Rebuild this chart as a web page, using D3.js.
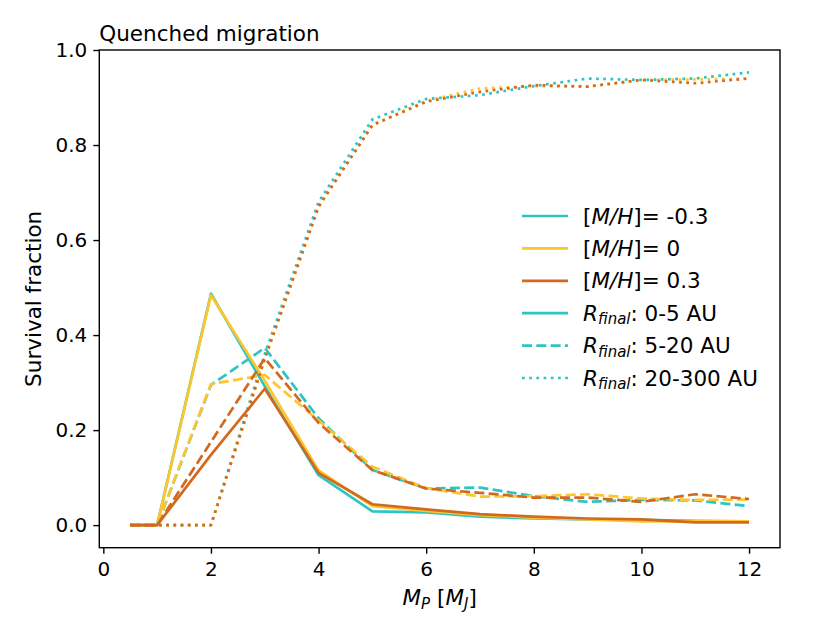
<!DOCTYPE html>
<html>
<head>
<meta charset="utf-8">
<script src="https://cdn.jsdelivr.net/npm/d3@7"></script>
<style>
body { margin: 0; background: #fff; }
text { font-family: "DejaVu Sans", sans-serif; }
</style>
</head>
<body>
<svg id="chart"></svg>
<script>
const width = 830;
const height = 623;

// planet mass in Jupiter masses
const masses = [0.5, 1, 2, 3, 4, 5, 6, 7, 8, 9, 10, 11, 12];
const metallicities = ["-0.3", "0", "0.3"];
const metalColors = ["#2ec4c4", "#fdc52e", "#d2691e"];
const radiusBins = ["0-5 AU", "5-20 AU", "20-300 AU"];

// R_final 0-5 AU
const innerLow  = [0, 0, 0.487, 0.292, 0.105, 0.029, 0.027, 0.018, 0.014, 0.012, 0.011, 0.009, 0.008];
const innerMid  = [0, 0, 0.484, 0.304, 0.115, 0.040, 0.030, 0.021, 0.016, 0.012, 0.008, 0.008, 0.008];
const innerHigh = [0, 0, 0.148, 0.287, 0.110, 0.044, 0.033, 0.023, 0.018, 0.014, 0.012, 0.006, 0.006];

// R_final 5-20 AU
const midLow  = [0, 0, 0.295, 0.373, 0.225, 0.116, 0.077, 0.079, 0.061, 0.049, 0.053, 0.052, 0.040];
const midMid  = [0, 0, 0.297, 0.316, 0.220, 0.123, 0.078, 0.060, 0.061, 0.065, 0.056, 0.053, 0.054];
const midHigh = [0, 0, 0.175, 0.351, 0.215, 0.116, 0.077, 0.068, 0.058, 0.058, 0.049, 0.065, 0.055];

// R_final 20-300 AU
const outerLow  = [0, 0, 0, 0.36, 0.680, 0.854, 0.897, 0.905, 0.924, 0.940, 0.937, 0.940, 0.953];
const outerMid  = [0, 0, 0, 0.35, 0.670, 0.842, 0.893, 0.919, 0.924, 0.923, 0.937, 0.938, 0.940];
const outerHigh = [0, 0, 0, 0.35, 0.670, 0.842, 0.891, 0.912, 0.926, 0.923, 0.937, 0.930, 0.940];

const xTicks = [0, 2, 4, 6, 8, 10, 12];
const yTicks = [0, 0.2, 0.4, 0.6, 0.8, 1.0];

const dashStyles = [null, "10,4.3", "2.7,4.5"];

// plotting order: per metallicity, solid / dashed / dotted
const series = [
    { metal: 0, bin: 0, values: innerLow },
    { metal: 0, bin: 1, values: midLow },
    { metal: 0, bin: 2, values: outerLow },
    { metal: 1, bin: 0, values: innerMid },
    { metal: 1, bin: 1, values: midMid },
    { metal: 1, bin: 2, values: outerMid },
    { metal: 2, bin: 0, values: innerHigh },
    { metal: 2, bin: 1, values: midHigh },
    { metal: 2, bin: 2, values: outerHigh }
];

const tickFont = "20px";
const labelFont = "21.5px";
const subFont = "15px";

const margin = { top: 50, right: 50, bottom: 75.3, left: 99.3 };
const plotW = width - margin.left - margin.right;
const plotH = height - margin.top - margin.bottom;

const svg = d3.select("#chart")
    .attr("width", width)
    .attr("height", height);

const x = d3.scaleLinear().domain([-0.075, 12.575]).range([margin.left, margin.left + plotW]);
const y = d3.scaleLinear().domain([-0.0475, 1.0]).range([margin.top + plotH, margin.top]);

const line = d3.line()
    .x((d, i) => x(masses[i]))
    .y(d => y(d));

svg.append("g").selectAll("path")
    .data(series)
    .enter()
    .append("path")
    .attr("d", d => line(d.values))
    .attr("fill", "none")
    .attr("stroke", d => metalColors[d.metal])
    .attr("stroke-width", 2.7)
    .attr("stroke-linejoin", "round")
    .attr("stroke-dasharray", d => dashStyles[d.bin]);

// axes
const xAxis = svg.append("g")
    .attr("transform", `translate(0,${margin.top + plotH})`)
    .call(d3.axisBottom(x).tickValues(xTicks).tickSize(6).tickPadding(8).tickFormat(d3.format("d")));
const yAxis = svg.append("g")
    .attr("transform", `translate(${margin.left},0)`)
    .call(d3.axisLeft(y).tickValues(yTicks).tickSize(6).tickPadding(6).tickFormat(d3.format(".1f")));

[xAxis, yAxis].forEach(a => {
    a.select(".domain").remove();
    a.selectAll(".tick line").attr("stroke", "#000").attr("stroke-width", 1.4);
    a.selectAll(".tick text").attr("fill", "#000").style("font-size", tickFont).style("font-family", "DejaVu Sans");
});

svg.append("rect")
    .attr("x", margin.left)
    .attr("y", margin.top)
    .attr("width", plotW)
    .attr("height", plotH)
    .attr("fill", "none")
    .attr("stroke", "#000")
    .attr("stroke-width", 1.4);

// title and labels
svg.append("text")
    .attr("x", margin.left)
    .attr("y", 40.5)
    .style("font-size", labelFont)
    .text("Quenched migration");

svg.append("text")
    .attr("transform", `translate(40.5,${margin.top + plotH / 2}) rotate(-90)`)
    .attr("text-anchor", "middle")
    .style("font-size", labelFont)
    .text("Survival fraction");

const xlab = svg.append("text")
    .attr("x", margin.left + plotW / 2)
    .attr("y", 605)
    .attr("text-anchor", "middle")
    .style("font-size", labelFont);
xlab.append("tspan").style("font-style", "italic").text("M");
xlab.append("tspan").style("font-style", "italic").style("font-size", subFont).attr("dy", 3.5).text("P");
xlab.append("tspan").attr("dy", -3.5).text(" [");
xlab.append("tspan").style("font-style", "italic").text("M");
xlab.append("tspan").style("font-style", "italic").style("font-size", subFont).attr("dy", 3.5).text("J");
xlab.append("tspan").attr("dy", -3.5).text("]");

// legend
const legendRows = [
    { color: metalColors[0], dash: null, kind: "metal", label: metallicities[0] },
    { color: metalColors[1], dash: null, kind: "metal", label: metallicities[1] },
    { color: metalColors[2], dash: null, kind: "metal", label: metallicities[2] },
    { color: metalColors[0], dash: dashStyles[0], kind: "radius", label: radiusBins[0] },
    { color: metalColors[0], dash: dashStyles[1], kind: "radius", label: radiusBins[1] },
    { color: metalColors[0], dash: dashStyles[2], kind: "radius", label: radiusBins[2] }
];

const legend = svg.append("g").attr("transform", "translate(522,216)");
const rowH = 32.4;

legend.selectAll("line")
    .data(legendRows)
    .enter()
    .append("line")
    .attr("x1", 0)
    .attr("x2", 46)
    .attr("y1", (d, i) => i * rowH)
    .attr("y2", (d, i) => i * rowH)
    .attr("stroke", d => d.color)
    .attr("stroke-width", 2.7)
    .attr("stroke-dasharray", d => d.dash);

legendRows.forEach((d, i) => {
    const t = legend.append("text")
        .attr("x", 61)
        .attr("y", i * rowH + 7.5)
        .style("font-size", labelFont);
    if (d.kind === "metal") {
        t.append("tspan").text("[");
        t.append("tspan").style("font-style", "italic").text("M/H");
        t.append("tspan").text("]= " + d.label);
    } else {
        t.append("tspan").style("font-style", "italic").text("R");
        t.append("tspan").style("font-style", "italic").style("font-size", subFont).attr("dy", 3.5).text("final");
        t.append("tspan").attr("dy", -3.5).text(": " + d.label);
    }
});
</script>
</body>
</html>
